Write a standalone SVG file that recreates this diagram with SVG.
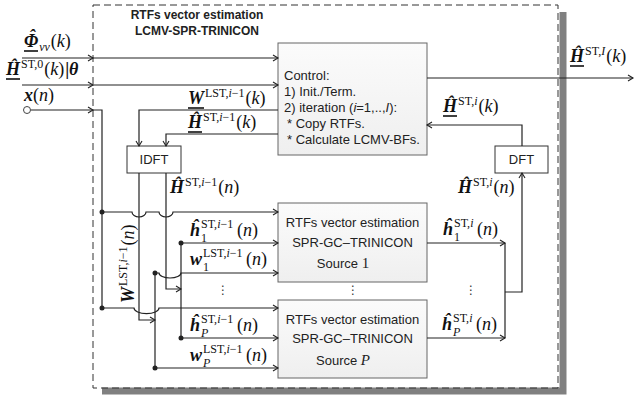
<svg xmlns="http://www.w3.org/2000/svg" width="637" height="403" viewBox="0 0 637 403">
<defs>
<marker id="ar" markerWidth="8" markerHeight="8" refX="6" refY="4" orient="auto" markerUnits="userSpaceOnUse"><path d="M1,1 L6,4 L1,7" fill="none" stroke="#222" stroke-width="1.1"/></marker>
<linearGradient id="gb" x1="0" y1="0" x2="0" y2="1"><stop offset="0" stop-color="#fbfbfb"/><stop offset="1" stop-color="#efefef"/></linearGradient>
<style>
.ln{fill:none;stroke:#222;stroke-width:1.2}
.ar{marker-end:url(#ar)}
.dot{fill:#222}
.box{fill:url(#gb);stroke:#666;stroke-width:1}
.wbox{fill:#fff;stroke:#333;stroke-width:1}
.bt{font-family:"Liberation Sans",Arial,sans-serif;font-size:13px;fill:#222}
.tt{font-family:"Liberation Sans",Arial,sans-serif;font-size:12px;font-weight:bold;fill:#222;text-anchor:middle}
.m{font-family:"Liberation Serif","Times New Roman",serif;font-size:18px;fill:#111}
.bi{font-weight:bold;font-style:italic}
.i{font-style:italic}
.s{font-size:12px}
.ul{stroke:#111;stroke-width:1.6}
.vd{font-family:"DejaVu Sans",sans-serif;font-size:12px;fill:#333;text-anchor:middle}
</style>
</defs>

<g id="frame">
<path d="M102,391 H563 V12" fill="none" stroke="#808080" stroke-width="7"/>
<rect x="93" y="5" width="465" height="383" fill="none" stroke="#333" stroke-width="1" stroke-dasharray="7 4"/>
</g>
<g id="title">
<text class="tt" x="197" y="19">RTFs vector estimation</text>
<text class="tt" x="197" y="35">LCMV-SPR-TRINICON</text>
</g>

<g id="control">
<rect class="box" x="278" y="43" width="149" height="112"/>
<text class="bt" x="284" y="80">Control:</text>
<text class="bt" x="284" y="96">1) Init./Term.</text>
<text class="bt" x="284" y="112">2) iteration (<tspan font-style="italic">i</tspan>=1,..,<tspan font-style="italic">I</tspan>):</text>
<text class="bt" x="287" y="128">* Copy RTFs.</text>
<text class="bt" x="287" y="144">* Calculate LCMV-BFs.</text>
</g>
<g id="idft">
<rect class="wbox" x="127" y="146" width="54" height="27"/>
<text class="bt" x="154" y="164" text-anchor="middle">IDFT</text>
</g>
<g id="dft">
<rect class="wbox" x="495" y="146" width="53" height="27"/>
<text class="bt" x="521.5" y="164" text-anchor="middle">DFT</text>
</g>
<g id="src1">
<rect class="box" x="278" y="203" width="149" height="79"/>
<text class="bt" x="352.5" y="227" text-anchor="middle">RTFs vector  estimation</text>
<text class="bt" x="352.5" y="247" text-anchor="middle">SPR-GC–TRINICON</text>
<text class="bt" x="343" y="268" text-anchor="middle">Source  <tspan font-family="Liberation Serif,serif" font-size="15px">1</tspan></text>
</g>
<g id="srcP">
<rect class="box" x="278" y="300" width="149" height="78"/>
<text class="bt" x="352.5" y="324" text-anchor="middle">RTFs vector  estimation</text>
<text class="bt" x="352.5" y="343" text-anchor="middle">SPR-GC–TRINICON</text>
<text class="bt" x="343" y="365" text-anchor="middle">Source  <tspan font-family="Liberation Serif,serif" font-size="15px" font-style="italic">P</tspan></text>
</g>

<g id="connectors">
<path class="ln ar" d="M22,58 H93"/>
<path class="ln ar" d="M93,58 H278"/>
<path class="ln ar" d="M22,85 H93"/>
<path class="ln ar" d="M93,85 H278"/>
<circle cx="27" cy="110" r="3.5" fill="#fff" stroke="#444" stroke-width="1"/>
<path class="ln ar" d="M31,110 H93"/>
<path class="ln" d="M93,110 H102 V308"/>
<path class="ln ar" d="M102,212 H132 A7,5 0 0 0 146,212 H159 A7,5 0 0 0 173,212 H278"/>
<path class="ln ar" d="M102,308 H134 A11,5 0 0 0 159,308 H278"/>
<path class="ln ar" d="M278,110 H139 V146"/>
<path class="ln ar" d="M278,134 H166 V146"/>
<path class="ln ar" d="M139,173 V320 H155"/>
<path class="ln ar" d="M166,173 V289 H181"/>
<path class="ln" d="M181,243 V338"/>
<path class="ln ar" d="M181,243 H278"/>
<path class="ln ar" d="M181,338 H278"/>
<path class="ln" d="M155,273 V368"/>
<path class="ln ar" d="M155,273 H159 A11,5 0 0 0 181,273 H278"/>
<path class="ln ar" d="M155,368 H278"/>
<circle class="dot" cx="102" cy="212" r="2.5"/>
<circle class="dot" cx="102" cy="308" r="2.5"/>
<circle class="dot" cx="181" cy="243" r="2.5"/>
<circle class="dot" cx="181" cy="338" r="2.5"/>
<circle class="dot" cx="155" cy="273" r="2.5"/>
<circle class="dot" cx="155" cy="368" r="2.5"/>
<path class="ln ar" d="M427,243 H505"/>
<path class="ln ar" d="M427,338 H505"/>
<path class="ln" d="M505,243 V338"/>
<path class="ln ar" d="M505,292 H522 V173"/>
<path class="ln ar" d="M522,146 V125 H427"/>
<path class="ln ar" d="M427,78 H633"/>
</g>

<g id="labels">
<text class="m" x="24" y="47"><tspan class="bi">Φ</tspan><tspan class="s i" dy="4" dx="1">vv</tspan><tspan dy="-4" dx="1">(<tspan class="i">k</tspan>)</tspan></text>
<text class="m bi" x="32" y="42" text-anchor="middle">ˆ</text>
<line class="ul" x1="24" y1="51" x2="38" y2="51"/>
<text class="m" x="6" y="75"><tspan class="bi">Ĥ</tspan><tspan class="s" dy="-7" dx="1">ST,0</tspan><tspan dy="7" dx="1">(<tspan class="i">k</tspan>)</tspan><tspan font-weight="bold" dx="1">|</tspan><tspan class="bi">θ</tspan></text>
<line class="ul" x1="6" y1="79" x2="20" y2="79"/>
<text class="m" x="24" y="101"><tspan class="bi">x</tspan>(<tspan class="i">n</tspan>)</text>

<text class="m" x="188" y="104"><tspan class="bi">W</tspan><tspan class="s" dy="-7" dx="1">LST,<tspan class="i">i</tspan>−1</tspan><tspan dy="7" dx="1">(<tspan class="i">k</tspan>)</tspan></text>
<line class="ul" x1="188" y1="108" x2="204" y2="108"/>
<text class="m" x="188" y="128"><tspan class="bi">Ĥ</tspan><tspan class="s" dy="-7" dx="1">ST,<tspan class="i">i</tspan>−1</tspan><tspan dy="7" dx="1">(<tspan class="i">k</tspan>)</tspan></text>
<line class="ul" x1="188" y1="132" x2="202" y2="132"/>

<text class="m" x="170" y="193"><tspan class="bi">Ĥ</tspan><tspan class="s" dy="-7" dx="1">ST,<tspan class="i">i</tspan>−1</tspan><tspan dy="7" dx="1">(<tspan class="i">n</tspan>)</tspan></text>
<text class="m" transform="translate(134,303) rotate(-90)"><tspan class="bi">W</tspan><tspan class="s" dy="-7" dx="1">LST,<tspan class="i">i</tspan>−1</tspan><tspan dy="7" dx="1">(<tspan class="i">n</tspan>)</tspan></text>

<text class="m" x="190" y="236"><tspan class="bi">ĥ</tspan><tspan class="s" x="201" y="228">ST,<tspan class="i">i</tspan>−1</tspan><tspan class="s" x="201" y="242">1</tspan><tspan x="237" y="236">(<tspan class="i">n</tspan>)</tspan></text>
<text class="m" x="190" y="265"><tspan class="bi">w</tspan><tspan class="s" x="203" y="257">LST,<tspan class="i">i</tspan>−1</tspan><tspan class="s" x="203" y="271">1</tspan><tspan x="246" y="265">(<tspan class="i">n</tspan>)</tspan></text>
<text class="m" x="190" y="331"><tspan class="bi">ĥ</tspan><tspan class="s" x="201" y="323">ST,<tspan class="i">i</tspan>−1</tspan><tspan class="s i" x="201" y="337">P</tspan><tspan x="237" y="331">(<tspan class="i">n</tspan>)</tspan></text>
<text class="m" x="190" y="361"><tspan class="bi">w</tspan><tspan class="s" x="203" y="353">LST,<tspan class="i">i</tspan>−1</tspan><tspan class="s i" x="203" y="367">P</tspan><tspan x="246" y="361">(<tspan class="i">n</tspan>)</tspan></text>

<text class="m" x="443" y="235"><tspan class="bi">ĥ</tspan><tspan class="s" x="454" y="227">ST,<tspan class="i">i</tspan></tspan><tspan class="s" x="454" y="241">1</tspan><tspan x="477" y="235">(<tspan class="i">n</tspan>)</tspan></text>
<text class="m" x="442" y="330"><tspan class="bi">ĥ</tspan><tspan class="s" x="453" y="322">ST,<tspan class="i">i</tspan></tspan><tspan class="s i" x="453" y="336">P</tspan><tspan x="476" y="330">(<tspan class="i">n</tspan>)</tspan></text>
<text class="m" x="458" y="193"><tspan class="bi">Ĥ</tspan><tspan class="s" dy="-7" dx="1">ST,<tspan class="i">i</tspan></tspan><tspan dy="7" dx="1">(<tspan class="i">n</tspan>)</tspan></text>
<text class="m" x="443" y="112"><tspan class="bi">Ĥ</tspan><tspan class="s" dy="-7" dx="1">ST,<tspan class="i">i</tspan></tspan><tspan dy="7" dx="1">(<tspan class="i">k</tspan>)</tspan></text>
<line class="ul" x1="443" y1="116" x2="457" y2="116"/>
<text class="m" x="570" y="62"><tspan class="bi">Ĥ</tspan><tspan class="s" dy="-7" dx="1">ST,<tspan class="i">I</tspan></tspan><tspan dy="7" dx="1">(<tspan class="i">k</tspan>)</tspan></text>
<line class="ul" x1="570" y1="66" x2="584" y2="66"/>

<text class="vd" x="223" y="294">⋮</text>
<text class="vd" x="353" y="294">⋮</text>
<text class="vd" x="471" y="294">⋮</text>
</g>
</svg>
